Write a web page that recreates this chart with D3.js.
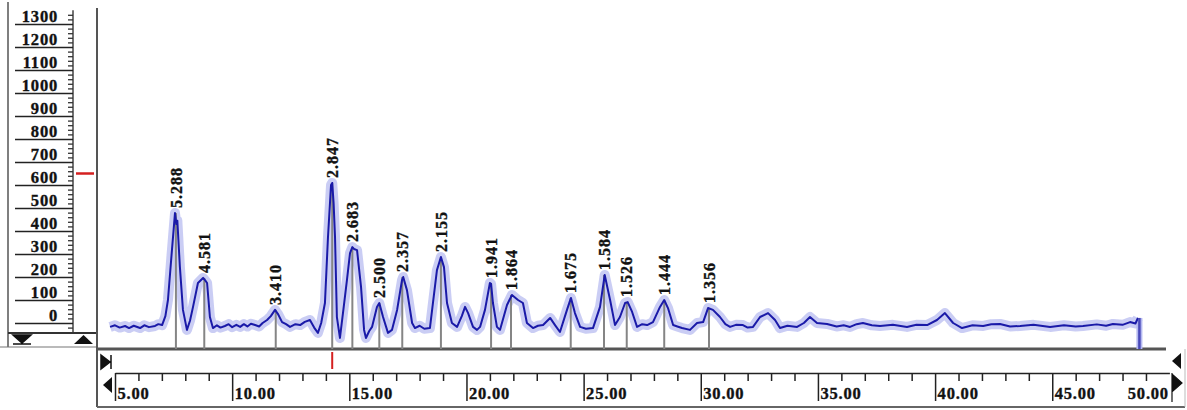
<!DOCTYPE html>
<html>
<head>
<meta charset="utf-8">
<script src="https://cdn.jsdelivr.net/npm/d3@7"></script>
<style>
  html, body { margin: 0; padding: 0; background: #fff; }
  svg { display: block; }
  .lbl { font-family: "Liberation Serif", "DejaVu Serif", serif; font-weight: bold; fill: #111; stroke: #111; stroke-width: 0.35; }
</style>
</head>
<body>
<svg id="chart" width="1187" height="410"></svg>
<script>
// ---------------- data ----------------
const peakLabels = ["5.288","4.581","3.410","2.847","2.683","2.500","2.357","2.155","1.941","1.864","1.675","1.584","1.526","1.444","1.356"];
const peakTheta  = [7.60, 8.81, 11.86, 14.27, 15.13, 16.28, 17.26, 18.91, 21.05, 21.90, 24.45, 25.87, 26.84, 28.44, 30.35];
const peakHeight = [478, 196, 57, 609, 330, 87, 200, 287, 174, 122, 109, 209, 91, 100, 65];

const profTheta = [4.79,5.0,5.2,5.43,5.6,5.8,6.07,6.25,6.45,6.71,6.85,7.01,7.15,7.26,7.43,7.56,7.62,7.66,7.77,7.90,8.07,8.2,8.33,8.54,8.76,8.85,8.93,9.05,9.18,9.35,9.5,9.69,9.85,10.0,10.18,10.34,10.5,10.65,10.8,10.98,11.15,11.3,11.49,11.65,11.83,11.95,12.13,12.3,12.47,12.7,12.90,13.1,13.32,13.5,13.66,13.8,13.96,14.09,14.22,14.27,14.33,14.39,14.47,14.60,14.75,14.90,15.03,15.13,15.2,15.33,15.50,15.63,15.71,15.85,15.97,16.18,16.28,16.44,16.65,16.82,17.04,17.25,17.30,17.46,17.68,17.80,18.0,18.2,18.44,18.57,18.74,18.91,19.04,19.17,19.38,19.60,19.8,19.94,20.07,20.28,20.45,20.58,20.79,21.00,21.05,21.13,21.30,21.43,21.73,21.94,22.20,22.41,22.58,22.84,23.05,23.27,23.57,23.78,23.99,24.29,24.46,24.63,24.85,25.1,25.40,25.70,25.90,26.13,26.34,26.55,26.77,26.88,27.07,27.28,27.5,27.71,27.96,28.26,28.44,28.60,28.82,29.0,29.20,29.54,29.84,30.10,30.31,30.52,30.82,31.05,31.25,31.5,31.80,32.0,32.23,32.53,32.87,33.17,33.38,33.7,34.11,34.4,34.66,34.96,35.39,35.8,36.1,36.37,36.65,36.92,37.3,37.65,38.2,38.80,39.2,39.66,40.08,40.42,40.77,41.15,41.6,42.05,42.4,42.77,43.2,43.63,44.2,44.91,45.5,46.0,46.31,46.9,47.3,47.59,48.0,48.32,48.55,48.66];
const profInt   = [-17,-10,-20,-13,-22,-12,-22,-10,-18,-13,-5,-9,30,100,317,478,430,445,243,57,-30,10,70,174,196,185,174,26,-22,-10,-20,-13,-5,-18,-8,-17,-5,-15,-3,-9,-15,0,13,30,57,40,4,-5,-17,-5,-9,5,13,-20,-43,0,87,374,600,609,520,374,26,-65,60,187,304,330,322,317,157,-30,-65,-35,-17,70,87,26,-43,-30,57,187,200,143,0,-22,-12,-25,-22,87,230,287,243,87,0,-17,30,70,43,-17,-30,-17,57,174,170,87,-17,-30,78,122,100,87,0,-22,-12,-9,22,-9,-39,57,109,43,-17,-25,-22,70,209,100,-9,26,87,91,48,-17,-5,-9,4,70,100,65,-9,-15,-22,-30,0,4,65,57,26,-5,-17,-8,-9,-20,-17,26,43,13,-22,-12,-17,0,26,0,-4,-15,-10,-17,-5,0,-10,-13,-8,-17,-8,-9,13,43,0,-22,-10,-13,-5,-4,-15,-13,-8,-17,-10,-15,-13,-6,-12,-4,-8,4,-2,22];
const endTheta = 48.72;

const xTickLabels = ["5.00","10.00","15.00","20.00","25.00","30.00","35.00","40.00","45.00","50.00"];
const xMajor = [5,10,15,20,25,30,35,40,45,50];
const yTickLabels = ["0","100","200","300","400","500","600","700","800","900","1000","1100","1200","1300"];
const yMajor = [0,100,200,300,400,500,600,700,800,900,1000,1100,1200,1300];
const cursorTheta = 14.27, cursorInt = 650;

// ---------------- layout ----------------
const svg = d3.select("#chart");
const plotLeft = 97, plotBottom = 349, boxBottom = 407, xAxisY = 373;
const spineX = 73;

const x = d3.scaleLinear().domain([5, 50]).range([115, 1169.4]);
const y = d3.scaleLinear().domain([0, 1300]).range([323, 24]);

const prof = profTheta.map((t, i) => [t, profInt[i]]);

// ---------- left panel ----------
svg.append("line").attr("x1", 8).attr("x2", 8).attr("y1", 2).attr("y2", 347)
   .attr("stroke", "#555").attr("stroke-width", 1.5);
svg.append("line").attr("x1", spineX).attr("x2", spineX).attr("y1", y(1360)).attr("y2", y(-42))
   .attr("stroke", "#444").attr("stroke-width", 1.5);
const minorY = d3.range(-40, 1341, 20).filter(v => v % 100 !== 0);
svg.append("g").attr("transform", `translate(${spineX},0)`)
   .call(d3.axisLeft(y).tickValues(minorY).tickSize(5).tickFormat(""))
   .call(g => g.select(".domain").remove())
   .call(g => g.selectAll("line").attr("stroke", "#333").attr("stroke-width", 1.3));
svg.append("g").attr("transform", `translate(${spineX},0)`)
   .call(d3.axisLeft(y).tickValues(yMajor).tickSize(8).tickFormat(""))
   .call(g => g.select(".domain").remove())
   .call(g => g.selectAll("line").attr("stroke", "#222").attr("stroke-width", 1.5));
const yl = svg.append("g");
yMajor.forEach((v, i) => {
  yl.append("line").attr("x1", 15).attr("x2", 65).attr("y1", y(v) + 0.5).attr("y2", y(v) + 0.5)
    .attr("stroke", "#222").attr("stroke-width", 1.7);
  yl.append("text").attr("class", "lbl").attr("x", 58).attr("y", y(v) - 2.5)
    .attr("text-anchor", "end").attr("font-size", 16.5).attr("letter-spacing", 0.8)
    .text(yTickLabels[i]);
});
svg.append("line").attr("x1", 8).attr("x2", plotLeft).attr("y1", 333).attr("y2", 333)
   .attr("stroke", "#333").attr("stroke-width", 2);
svg.append("line").attr("x1", 0).attr("x2", plotLeft).attr("y1", 347).attr("y2", 347)
   .attr("stroke", "#777").attr("stroke-width", 1.2);
svg.append("path").attr("d", "M13,335 L31,335 L22,343 Z M13,344 L31,344").attr("fill", "#111")
   .attr("stroke", "#111").attr("stroke-width", 1.5);
svg.append("path").attr("d", "M74,344 L93,344 L83.5,335 Z").attr("fill", "#111");
svg.append("line").attr("x1", 76).attr("x2", 94).attr("y1", y(cursorInt)).attr("y2", y(cursorInt))
   .attr("stroke", "#d42020").attr("stroke-width", 2.5);

// ---------- plot frame ----------
svg.append("line").attr("x1", plotLeft).attr("x2", plotLeft).attr("y1", 8).attr("y2", boxBottom)
   .attr("stroke", "#555").attr("stroke-width", 2);
svg.append("line").attr("x1", plotLeft).attr("x2", 1166).attr("y1", plotBottom).attr("y2", plotBottom)
   .attr("stroke", "#555").attr("stroke-width", 3);

// ---------- spectrum ----------
const line = d3.line().x(d => x(d[0])).y(d => y(d[1]));
svg.append("path").datum(prof).attr("d", line).attr("fill", "none")
   .attr("stroke", "#b4b8f0").attr("stroke-width", 10).attr("stroke-linejoin", "round")
   .attr("stroke-opacity", 0.7);
svg.append("line").attr("x1", x(endTheta)).attr("x2", x(endTheta))
   .attr("y1", y(profInt[profInt.length - 1])).attr("y2", plotBottom)
   .attr("stroke", "#b4b8f0").attr("stroke-width", 6);

svg.append("g").selectAll("line").data(peakTheta).join("line")
   .attr("x1", d => x(d)).attr("x2", d => x(d))
   .attr("y1", plotBottom).attr("y2", (d, i) => y(peakHeight[i]))
   .attr("stroke", "#858585").attr("stroke-width", 2);

svg.append("path").datum(prof).attr("d", line).attr("fill", "none")
   .attr("stroke", "#1a1aa8").attr("stroke-width", 2).attr("stroke-linejoin", "round");
svg.append("line").attr("x1", x(endTheta)).attr("x2", x(endTheta))
   .attr("y1", y(profInt[profInt.length - 1])).attr("y2", plotBottom)
   .attr("stroke", "#4848b8").attr("stroke-width", 2.5);

svg.append("g").selectAll("text").data(peakLabels).join("text")
   .attr("class", "lbl").attr("font-size", 16).attr("letter-spacing", 1)
   .attr("transform", (d, i) => `translate(${x(peakTheta[i])},${y(peakHeight[i]) - 5}) rotate(-90)`)
   .attr("dy", "0.35em")
   .text(d => d);

// ---------- bottom box ----------
svg.append("line").attr("x1", plotLeft).attr("x2", 1185).attr("y1", boxBottom).attr("y2", boxBottom)
   .attr("stroke", "#666").attr("stroke-width", 2);
svg.append("line").attr("x1", 1185).attr("x2", 1185).attr("y1", plotBottom).attr("y2", boxBottom)
   .attr("stroke", "#bbb").attr("stroke-width", 1);
svg.append("line").attr("x1", x(cursorTheta)).attr("x2", x(cursorTheta)).attr("y1", 352).attr("y2", 369)
   .attr("stroke", "#d42020").attr("stroke-width", 2);

const minorX = d3.range(5, 51, 1).filter(v => v % 5 !== 0);
svg.append("g").attr("transform", `translate(0,${xAxisY})`)
  .call(d3.axisBottom(x).tickValues(minorX).tickSize(8).tickSizeOuter(0).tickFormat(""))
  .call(g => g.select(".domain").attr("stroke", "#222").attr("stroke-width", 1.5))
  .call(g => g.selectAll(".tick line").attr("stroke", "#222").attr("stroke-width", 1.5));
svg.append("g").attr("transform", `translate(0,${xAxisY})`)
   .call(d3.axisBottom(x).tickValues(xMajor).tickSize(28).tickSizeOuter(0)
        .tickFormat((d, i) => xTickLabels[i]))
   .call(g => g.select(".domain").remove())
   .call(g => g.selectAll(".tick line").attr("stroke", "#222").attr("stroke-width", 1.5)
              .attr("opacity", (d) => d === 50 ? 0 : 1))
   .call(g => g.selectAll(".tick text").attr("class", "lbl").attr("font-size", 16.5)
              .attr("letter-spacing", 0.8)
              .attr("y", 26).attr("dy", 0)
              .attr("x", d => d === 50 ? -1 : 2)
              .attr("text-anchor", d => d === 50 ? "end" : "start"));
svg.append("path").attr("d", "M101,355 L110,362 L101,369 Z M111,355 L111,369").attr("fill", "#111")
   .attr("stroke", "#111").attr("stroke-width", 1.5);
svg.append("path").attr("d", "M112,377 L103,385 L112,393 Z").attr("fill", "#111");
svg.append("path").attr("d", "M1181,353 L1172,361 L1181,369 Z").attr("fill", "#111");
svg.append("path").attr("d", "M1173,375 L1182,383 L1173,391 Z M1172,373 L1172,402").attr("fill", "#111")
   .attr("stroke", "#111").attr("stroke-width", 1.2);
</script>
</body>
</html>
